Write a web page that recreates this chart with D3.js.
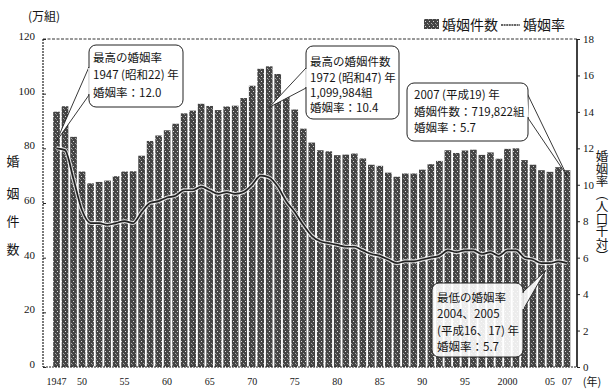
<!DOCTYPE html>
<html>
<head>
<meta charset="utf-8">
<script src="https://cdn.jsdelivr.net/npm/d3@7"></script>
<style>
    body { margin: 0; background: #fff; }
    text { font-family: "Noto Sans CJK JP", sans-serif; fill: #151515; }
    .num { font-family: "Liberation Serif", serif; }
</style>
</head>
<body>
<svg id="chart" width="610" height="392"></svg>
<script>
    // 婚姻件数 (万組) と 婚姻率 (人口千対), 1947-2007
    const years = d3.range(1947, 2008);
    const marriages = [
        93.4, 95.4, 84.2, 71.5, 67.2, 67.7, 68.2, 69.8, 71.5, 71.6,
        77.3, 82.7, 84.7, 86.6, 89.0, 92.8, 93.8, 96.3, 95.5, 94.0,
        95.3, 95.6, 98.4, 102.9, 109.1, 110.0, 107.2, 100.0, 94.2, 87.2,
        82.1, 79.3, 78.9, 77.5, 77.7, 78.1, 76.3, 74.0, 73.6, 71.1,
        69.6, 70.8, 70.8, 72.2, 74.2, 75.4, 79.3, 78.3, 79.2, 79.5,
        77.6, 78.5, 76.2, 79.8, 80.0, 75.7, 74.0, 72.0, 71.4, 73.1,
        72.0
    ];
    const rates = [
        12.0, 11.9, 10.3, 8.6, 7.9, 7.9, 7.8, 7.9, 8.0, 7.9,
        8.5, 9.0, 9.1, 9.3, 9.4, 9.7, 9.7, 9.9, 9.7, 9.5,
        9.6, 9.5, 9.6, 10.0, 10.5, 10.4, 9.9, 9.1, 8.5, 7.8,
        7.2, 6.9, 6.8, 6.7, 6.6, 6.6, 6.4, 6.2, 6.1, 5.9,
        5.7, 5.8, 5.8, 5.9, 6.0, 6.1, 6.4, 6.3, 6.4, 6.4,
        6.2, 6.3, 6.1, 6.4, 6.4, 6.0, 5.9, 5.7, 5.7, 5.8,
        5.7
    ];
    const leftTicks = [0, 20, 40, 60, 80, 100, 120];
    const rightTicks = [0, 2, 4, 6, 8, 10, 12, 14, 16, 18];
    const tickYears = [1947, 1950, 1955, 1960, 1965, 1970, 1975, 1980, 1985, 1990, 1995, 2000, 2005, 2007];
    const tickLabels = ["1947", "50", "55", "60", "65", "70", "75", "80", "85", "90", "95", "2000", "05", "07"];

    const data = years.map((y, i) => ({ year: y, count: marriages[i], rate: rates[i] }));

    const svg = d3.select("#chart");
    const plot = { left: 43, right: 577, top: 39, bottom: 367 };

    const x = d3.scaleBand().domain(years).range([53.2, 570.3]).paddingInner(0.22).paddingOuter(0);
    const cx = y => x(y) + x.bandwidth() / 2;
    const yL = d3.scaleLinear().domain([0, 120]).range([plot.bottom, plot.top]);
    const yR = d3.scaleLinear().domain([0, 18]).range([plot.bottom, plot.top]);

    // scanned-looking texture for bars
    const defs = svg.append("defs");
    const pat = defs.append("pattern").attr("id", "tex").attr("patternUnits", "userSpaceOnUse")
        .attr("width", 4).attr("height", 5);
    pat.append("rect").attr("width", 4).attr("height", 5).attr("fill", "#444");
    pat.append("rect").attr("x", 1).attr("y", 1).attr("width", 1).attr("height", 1).attr("fill", "#d8d8d8");
    pat.append("rect").attr("x", 3).attr("y", 3).attr("width", 1).attr("height", 1).attr("fill", "#aaa");
    pat.append("rect").attr("x", 0).attr("y", 4).attr("width", 1).attr("height", 1).attr("fill", "#888");

    // bars
    svg.append("g").selectAll("rect").data(data).join("rect")
        .attr("x", d => x(d.year))
        .attr("y", d => yL(d.count))
        .attr("width", x.bandwidth())
        .attr("height", d => yL(0) - yL(d.count))
        .attr("fill", "url(#tex)");

    // rate line
    const line = d3.line().x(d => cx(d.year)).y(d => yR(d.rate)).curve(d3.curveMonotoneX);
    svg.append("path").datum(data).attr("d", line)
        .attr("fill", "none").attr("stroke", "#fff").attr("stroke-width", 4).attr("stroke-opacity", 0.75);
    svg.append("path").datum(data).attr("d", line)
        .attr("fill", "none").attr("stroke", "#222").attr("stroke-width", 1.7);

    // frame
    svg.append("line").attr("x1", plot.left).attr("x2", plot.right).attr("y1", plot.top).attr("y2", plot.top)
        .attr("stroke", "#333").attr("stroke-dasharray", "3,1.5");
    svg.append("line").attr("x1", plot.left).attr("x2", plot.right).attr("y1", plot.bottom).attr("y2", plot.bottom)
        .attr("stroke", "#222").attr("stroke-dasharray", "2,1");
    svg.append("line").attr("x1", plot.left).attr("x2", plot.left).attr("y1", plot.top).attr("y2", plot.bottom)
        .attr("stroke", "#222").attr("stroke-width", 1.2).attr("stroke-dasharray", "2,1");
    svg.append("line").attr("x1", plot.right).attr("x2", plot.right).attr("y1", plot.top).attr("y2", plot.bottom)
        .attr("stroke", "#111").attr("stroke-width", 1.6);

    // axes
    const axL = svg.append("g").attr("transform", `translate(${plot.left},0)`)
        .call(d3.axisLeft(yL).tickValues(leftTicks).tickSize(-3).tickPadding(8));
    const axR = svg.append("g").attr("transform", `translate(${plot.right},0)`)
        .call(d3.axisRight(yR).tickValues(rightTicks).tickSize(3).tickPadding(3));
    [axL, axR].forEach(ax => {
        ax.select(".domain").remove();
        ax.selectAll("line").attr("stroke", "#222");
        ax.selectAll("text").attr("class", "num").attr("font-size", 11).attr("fill", "#151515");
    });
    axL.selectAll("text").attr("dy", "0.05em");

    svg.append("g").selectAll("text").data(tickYears).join("text")
        .attr("class", "num")
        .attr("x", d => cx(d))
        .attr("y", 385)
        .attr("text-anchor", "middle")
        .attr("font-size", 10)
        .text((d, i) => tickLabels[i]);
    svg.append("text").attr("x", 592).attr("y", 386).attr("text-anchor", "middle")
        .attr("font-size", 11).text("(年)");

    // axis titles
    svg.append("text").attr("x", 44).attr("y", 21).attr("text-anchor", "middle").attr("font-size", 12).text("(万組)");
    const leftTitle = ["婚", "姻", "件", "数"];
    const leftTitleY = [160, 192, 220, 248];
    svg.append("g").selectAll("text").data(leftTitle).join("text")
        .attr("x", 13).attr("y", (d, i) => leftTitleY[i])
        .attr("text-anchor", "middle").attr("dominant-baseline", "central")
        .attr("font-size", 13).text(d => d);
    svg.append("text").attr("x", 602).attr("y", 150)
        .style("writing-mode", "vertical-rl")
        .attr("font-size", 12.5).text("婚姻率（人口千対）");

    // legend
    svg.append("rect").attr("x", 424).attr("y", 19).attr("width", 15).attr("height", 10).attr("fill", "url(#tex)");
    svg.append("text").attr("x", 442).attr("y", 30).attr("font-size", 14).text("婚姻件数");
    svg.append("line").attr("x1", 501).attr("x2", 520).attr("y1", 25).attr("y2", 25)
        .attr("stroke", "#333").attr("stroke-width", 1.5).attr("stroke-dasharray", "2,0.6");
    svg.append("text").attr("x", 523).attr("y", 30).attr("font-size", 14).text("婚姻率");

    // callouts
    const callouts = [
        { box: [89, 45, 94, 62], lines: ["最高の婚姻率", "1947 (昭和22) 年", "婚姻率：12.0"], base: [[89, 67], [89, 95]],
          tip: [cx(1947), yR(12.4)], ys: [62, 79, 97], tx: 93, op: 1 },
        { box: [306, 46, 93, 73], lines: ["最高の婚姻件数", "1972 (昭和47) 年", "1,099,984組", "婚姻率：10.4"], base: [[306, 68], [306, 88]],
          tip: [cx(1972), yL(95)], ys: [66, 82, 97, 112], tx: 310, op: 1 },
        { box: [407, 83, 121, 58], lines: ["2007 (平成19) 年", "婚姻件数：719,822組", "婚姻率：5.7"], base: [[526, 91], [528, 118]],
          tip: [cx(2007), yL(70)], ys: [99, 116, 132], tx: 414, op: 1 },
        { box: [432, 283, 91, 74], lines: ["最低の婚姻率", "2004、2005", "(平成16、17) 年", "婚姻率：5.7"], base: [[523, 292], [523, 310]],
          tip: [(cx(2004) + cx(2005)) / 2, yR(5.3)], ys: [302, 318, 335, 351], tx: 437, op: 0.9 }
    ];
    callouts.forEach(c => {
        const g = svg.append("g");
        g.append("path")
            .attr("d", `M${c.base[0][0]},${c.base[0][1]}L${c.tip[0]},${c.tip[1]}L${c.base[1][0]},${c.base[1][1]}Z`)
            .attr("fill", "#fff").attr("fill-opacity", c.op).attr("stroke", "#222").attr("stroke-width", 0.9);
        g.append("rect").attr("x", c.box[0]).attr("y", c.box[1]).attr("width", c.box[2]).attr("height", c.box[3])
            .attr("rx", 7).attr("fill", "#fff").attr("fill-opacity", c.op).attr("stroke", "#222").attr("stroke-width", 1);
        // hide the box edge where the tail joins
        g.append("line").attr("x1", c.base[0][0]).attr("y1", c.base[0][1] + 1).attr("x2", c.base[1][0]).attr("y2", c.base[1][1] - 1)
            .attr("stroke", "#fff").attr("stroke-width", 1.6);
        g.selectAll("text").data(c.lines).join("text")
            .attr("x", c.tx).attr("y", (d, i) => c.ys[i])
            .attr("font-size", 11.5).text(d => d);
    });
</script>
</body>
</html>
